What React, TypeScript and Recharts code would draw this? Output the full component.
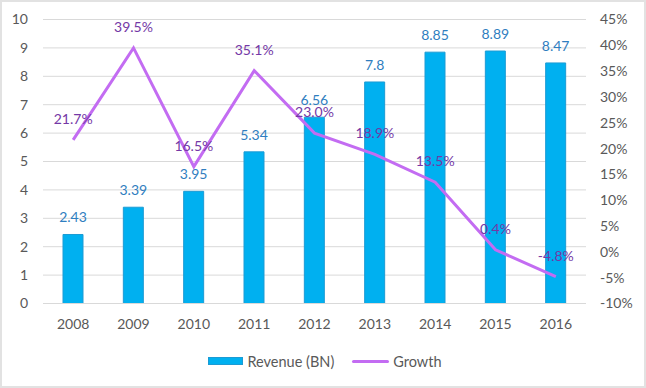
import { ComposedChart, Bar, Line, XAxis, YAxis, CartesianGrid, Legend, LabelList } from 'recharts'

const years = ['2008', '2009', '2010', '2011', '2012', '2013', '2014', '2015', '2016']
const revenue = [2.43, 3.39, 3.95, 5.34, 6.56, 7.8, 8.85, 8.89, 8.47]
const growth = [21.7, 39.5, 16.5, 35.1, 23.0, 18.9, 13.5, 0.4, -4.8]
const leftTicks = [0, 1, 2, 3, 4, 5, 6, 7, 8, 9, 10]
const rightTicks = [-10, -5, 0, 5, 10, 15, 20, 25, 30, 35, 40, 45]

const data = years.map((year, i) => ({ year, revenue: revenue[i], growth: growth[i] }))

const FONT = 'Lato, "Noto Sans", sans-serif'
const tick = { fontSize: 14, fill: '#595959', fontFamily: FONT }

function LegendBox() {
    return (
        <div style={{ height: 20, display: 'flex', justifyContent: 'center', alignItems: 'center',
            fontFamily: FONT, fontSize: 14.5, color: '#595959', paddingLeft: 4 }}>
            <span style={{ display: 'inline-block', width: 35, height: 8, background: '#00B0F0',
                border: '1px solid #1C9BD4', boxSizing: 'border-box', marginRight: 4 }} />
            <span>Revenue (BN)</span>
            <span style={{ display: 'inline-block', width: 37, height: 3, background: '#C36CF2',
                borderRadius: 2, marginLeft: 18, marginRight: 4 }} />
            <span>Growth</span>
        </div>
    )
}

export default function App() {
    return (
        <div style={{ position: 'absolute', left: 0, top: 0, width: 646, height: 388, background: '#fff' }}>
            <ComposedChart width={646} height={388} data={data}
                margin={{ top: 19.5, right: 0, left: 0, bottom: 17 }} barSize={20}>
                <CartesianGrid yAxisId="left" vertical={false} stroke="#D9D9D9" />
                <XAxis dataKey="year" tick={tick} tickLine={false} tickSize={0} tickMargin={16}
                    axisLine={{ stroke: '#D9D9D9' }} height={47.5} />
                <YAxis yAxisId="left" domain={[0, 10]} ticks={leftTicks} interval={0} tick={tick}
                    axisLine={false} tickLine={false} tickSize={0} tickMargin={15} width={43} />
                <YAxis yAxisId="right" orientation="right" domain={[-10, 45]} ticks={rightTicks}
                    interval={0} tick={{ ...tick, textAnchor: 'start' }} tickFormatter={(v: number) => `${v}%`}
                    axisLine={false} tickLine={false} tickSize={0} tickMargin={14} width={60} />
                <Legend verticalAlign="bottom" content={() => <LegendBox />} />
                <Bar yAxisId="left" dataKey="revenue" name="Revenue (BN)" fill="#00B0F0"
                    stroke="#1C9BD4" strokeWidth={1} isAnimationActive={false}>
                    <LabelList dataKey="revenue" position="top" offset={12}
                        style={{ fill: '#2F7EC0', fontSize: 14, fontFamily: FONT }} />
                </Bar>
                <Line yAxisId="right" dataKey="growth" name="Growth" stroke="#C36CF2" strokeWidth={3}
                    dot={false} isAnimationActive={false}>
                    <LabelList dataKey="growth" position="top" offset={16}
                        formatter={(v: number) => `${v.toFixed(1)}%`}
                        style={{ fill: '#7438A6', fontSize: 14, fontFamily: FONT }} />
                </Line>
            </ComposedChart>
            <div style={{ position: 'absolute', left: 0, top: 0, width: 646, height: 388,
                border: '2px solid #E2E2E2', boxSizing: 'border-box', pointerEvents: 'none' }} />
        </div>
    )
}
